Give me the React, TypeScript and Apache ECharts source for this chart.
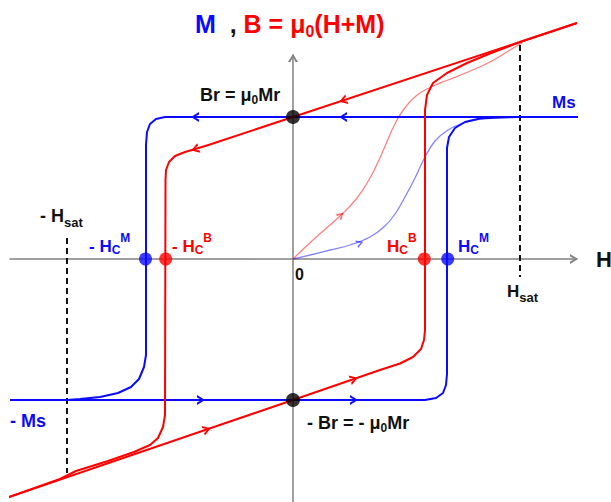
import React, { useEffect, useRef } from "react";
import * as echarts from "echarts";

const FF = "'Liberation Sans', Arial, Helvetica, sans-serif";
const BLUE = "#0a0aff";
const RED = "#ff0000";
const BLACK = "#111111";
const GRAY = "#808080";

// Field H (x) and magnetisation / induction (y), arbitrary units
const H_MIN = -283;
const H_MAX = 284;
const Y_MIN = -243;
const Y_MAX = 204;

// M(H) major loop
const blueDown: number[][] = [
  [287, 142], [-128, 142], [-137, 140], [-143, 135], [-146, 127], [-147, 114],
  [-147, -96], [-149, -108], [-154, -120], [-162, -128], [-175, -134],
  [-193, -138], [-213, -140], [-226, -141], [-283, -141],
];
const blueUp: number[][] = [
  [-283, -141], [132, -141], [143, -139], [150, -134], [153, -126], [154, -115],
  [154, 111], [156, 122], [162, 131], [172, 137], [187, 140.5], [207, 141.6],
  [227, 142], [287, 142],
];
const blueVirgin: number[][] = [
  [0, 0], [17, 4], [37, 9], [57, 14], [77, 22], [92, 33], [102, 45], [112, 62],
  [122, 81], [132, 102], [142, 118], [155, 129], [170, 136], [187, 140],
  [207, 141.5], [227, 142],
];

// B(H) major loop
const redDown: number[][] = [
  [284, 236], [227, 217], [0, 142], [-83, 114.5], [-96, 110.5], [-108, 107],
  [-118, 103], [-124, 97], [-127, 89], [-127.5, 79], [-128, -156], [-130, -168],
  [-135, -179], [-143, -186], [-159, -193], [-185, -202], [-217, -212],
  [-233, -220], [-284, -238],
];
const redUp: number[][] = [
  [-284, -238], [0, -141], [87, -111], [107, -104.5], [120, -98], [128, -90],
  [131, -81], [132, -71], [132, 149], [134, 164], [140, 176], [154, 186],
  [174, 196], [197, 205.5], [227, 217], [284, 236],
];
const redVirgin: number[][] = [
  [0, 0], [20, 19], [47, 43], [64, 61], [77, 81], [86, 99], [93, 115], [101, 133],
  [111, 150], [123, 163], [138, 172], [155, 179], [175, 187], [197, 197],
  [217, 209], [229, 216],
];

const hsatLine: number[][] = [[227, 214], [227, -18]];
const negHsatLine: number[][] = [[-226, 21], [-226, -214]];
const remanence: number[][] = [[0, 142], [0, -141]];
const coerciveM: number[][] = [[-147.5, 0], [154.7, 0]];
const coerciveB: number[][] = [[-127.3, 0], [131.3, 0]];

// [H, y, direction in degrees]
const arrowsBlue: number[][] = [[-98, 142, 180], [50, 142, 180], [-92, -141, 0], [61, -141, 0]];
const arrowsRed: number[][] = [[50, 158.5, 198], [-98, 109.7, 198], [-86, -170.5, 19], [61, -120, 19]];
const virginArrowRed: number[][] = [[48, 44, 44]];
const virginArrowBlue: number[][] = [[67, 16, 21]];
const axisArrows: number[][] = [[281, 0, 0], [0, 201, 90]];

const CHEV = "path://M0,0 L10,5 L0,10 L0,7.6 L6.2,5 L0,2.4 Z";

type Piece = { t: string; s: number; c: string; d?: number };

let ctx: CanvasRenderingContext2D | null = null;
function measure(t: string, s: number): number {
  if (!ctx) ctx = document.createElement("canvas").getContext("2d");
  if (!ctx) return t.length * s * 0.6;
  ctx.font = `bold ${s}px ${FF}`;
  return ctx.measureText(t).width;
}

function label(x0: number, base: number, pieces: Piece[]): any[] {
  const els: any[] = [];
  let x = x0;
  for (const p of pieces) {
    const b = base + (p.d || 0);
    els.push({
      type: "text",
      x,
      y: b - 0.35 * p.s,
      z: 100,
      silent: true,
      style: {
        text: p.t,
        fill: p.c,
        font: `bold ${p.s}px ${FF}`,
        textAlign: "left",
        align: "left",
        textVerticalAlign: "middle",
        verticalAlign: "middle",
      },
    });
    x += measure(p.t, p.s);
  }
  return els;
}

function lineS(data: number[][], color: string, width: number, opacity = 1, z = 2, smooth: any = false, dashed = false) {
  return {
    type: "line",
    data,
    symbol: "none",
    showSymbol: false,
    clip: false,
    smooth,
    silent: true,
    z,
    lineStyle: dashed
      ? { color, width, opacity, type: [6, 4] }
      : { color, width, opacity },
  };
}

function arrowS(arr: number[][], color: string, size: number[], opacity = 1, z = 6) {
  return {
    type: "scatter",
    data: arr.map(([x, y, a]) => ({ value: [x, y], symbolRotate: a })),
    symbol: CHEV,
    symbolSize: size,
    clip: false,
    silent: true,
    z,
    itemStyle: { color, opacity },
  };
}

function dotS(arr: number[][], color: string, size: number) {
  return {
    type: "scatter",
    data: arr,
    symbol: "circle",
    symbolSize: size,
    clip: false,
    silent: true,
    z: 8,
    itemStyle: { color },
  };
}

export default function App() {
  const ref = useRef<HTMLDivElement>(null);
  useEffect(() => {
    if (!ref.current) return;
    const chart = echarts.init(ref.current, undefined, { renderer: "svg" });
    const hidden = {
      axisTick: { show: false },
      axisLabel: { show: false },
      splitLine: { show: false },
    };
    const graphic = [
      ...label(195, 33, [
        { t: "M", s: 25, c: BLUE },
        { t: "  , ", s: 25, c: BLACK },
        { t: "B = \u03bc", s: 25, c: RED },
        { t: "0", s: 16, c: RED, d: 4 },
        { t: "(H+M)", s: 25, c: RED },
      ]),
      ...label(200, 101, [
        { t: "Br = \u03bc", s: 18, c: BLACK },
        { t: "0", s: 12, c: BLACK, d: 3 },
        { t: "Mr", s: 18, c: BLACK },
      ]),
      ...label(552, 108, [{ t: "Ms", s: 17, c: BLUE }]),
      ...label(10, 427, [{ t: "- Ms", s: 18, c: BLUE }]),
      ...label(40, 222, [
        { t: "- H", s: 18, c: BLACK },
        { t: "sat", s: 13, c: BLACK, d: 5 },
      ]),
      ...label(89, 252, [
        { t: "- H", s: 17, c: BLUE },
        { t: "C", s: 12, c: BLUE, d: 2 },
        { t: "M", s: 12, c: BLUE, d: -10 },
      ]),
      ...label(172, 252, [
        { t: "- H", s: 17, c: RED },
        { t: "C", s: 12, c: RED, d: 2 },
        { t: "B", s: 12, c: RED, d: -10 },
      ]),
      ...label(387, 252, [
        { t: "H", s: 17, c: RED },
        { t: "C", s: 12, c: RED, d: 2 },
        { t: "B", s: 12, c: RED, d: -10 },
      ]),
      ...label(458, 252, [
        { t: "H", s: 17, c: BLUE },
        { t: "C", s: 12, c: BLUE, d: 2 },
        { t: "M", s: 12, c: BLUE, d: -10 },
      ]),
      ...label(295, 280, [{ t: "0", s: 16, c: BLACK }]),
      ...label(507, 297, [
        { t: "H", s: 17, c: BLACK },
        { t: "sat", s: 13, c: BLACK, d: 5 },
      ]),
      ...label(307, 429, [
        { t: "- Br = - \u03bc", s: 18, c: BLACK },
        { t: "0", s: 12, c: BLACK, d: 3 },
        { t: "Mr", s: 18, c: BLACK },
      ]),
      ...label(596, 267, [{ t: "H", s: 22, c: BLACK }]),
    ];
    chart.setOption({
      animation: false,
      grid: { left: 10, top: 55, width: 567, height: 447 },
      xAxis: {
        type: "value",
        min: H_MIN,
        max: H_MAX,
        axisLine: { onZero: true, lineStyle: { color: GRAY, width: 1.5 } },
        ...hidden,
      },
      yAxis: {
        type: "value",
        min: Y_MIN,
        max: Y_MAX,
        axisLine: { onZero: true, lineStyle: { color: GRAY, width: 1.5 } },
        ...hidden,
      },
      series: [
        lineS(hsatLine, BLACK, 2, 1, 1, false, true),
        lineS(negHsatLine, BLACK, 2, 1, 1, false, true),
        lineS(blueVirgin, BLUE, 1.3, 0.5, 2, 0.4),
        lineS(redVirgin, RED, 1.3, 0.5, 2, 0.5),
        lineS(blueDown, BLUE, 2, 1, 3),
        lineS(blueUp, BLUE, 2, 1, 3),
        lineS(redDown, RED, 2, 1, 4),
        lineS(redUp, RED, 2, 1, 4),
        arrowS(arrowsBlue, BLUE, [8, 10]),
        arrowS(arrowsRed, RED, [8, 10]),
        arrowS(virginArrowBlue, BLUE, [7, 8], 0.6),
        arrowS(virginArrowRed, RED, [7, 8], 0.6),
        arrowS(axisArrows, GRAY, [8, 10]),
        dotS(remanence, "#000000", 14),
        dotS(coerciveM, BLUE, 13),
        dotS(coerciveB, RED, 13),
      ],
      graphic,
    });
    return () => chart.dispose();
  }, []);
  return (
    <div
      ref={ref}
      style={{ position: "absolute", left: 0, top: 0, width: 611, height: 502, background: "#ffffff" }}
    />
  );
}
